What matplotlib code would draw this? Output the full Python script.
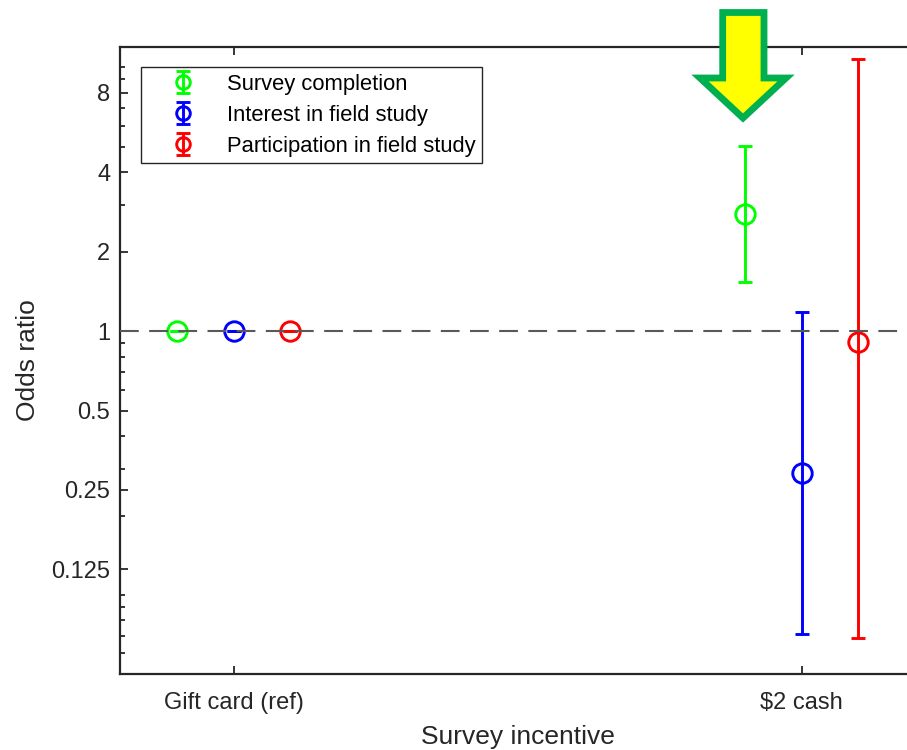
import numpy as np
import matplotlib
matplotlib.use("Agg")
import matplotlib.pyplot as plt
from matplotlib.ticker import FixedLocator, LogLocator, NullFormatter, NullLocator
from matplotlib.patches import Polygon

plt.rcParams['font.family'] = ['Liberation Sans', 'DejaVu Sans']

# data
groups = ["Gift card (ref)", "\\$2 cash"]
series = ["Survey completion", "Interest in field study", "Participation in field study"]
colors = ["#00ff00", "#0000ff", "#ff0000"]
odds = [[1.0, 2.77], [1.0, 0.290], [1.0, 0.910]]
ci_low = [[1.0, 1.54], [1.0, 0.0711], [1.0, 0.0685]]
ci_high = [[1.0, 5.05], [1.0, 1.18], [1.0, 10.8]]
offsets = [-0.1, 0.0, 0.1]

yticks = [0.125, 0.25, 0.5, 1, 2, 4, 8]
yticklabels = ["0.125", "0.25", "0.5", "1", "2", "4", "8"]

dark = (0.15, 0.15, 0.15)

fig = plt.figure(figsize=(9.07, 7.5), dpi=100)
ax = fig.add_axes([0.1323, 0.1009, 0.8767, 0.8371])

x = np.arange(1, len(groups) + 1)
handles = []
for i in range(len(series)):
    y = np.array(odds[i])
    lo = y - np.array(ci_low[i])
    hi = np.array(ci_high[i]) - y
    h = ax.errorbar(x + offsets[i], y, yerr=[lo, hi], fmt='o', color=colors[i],
                    mfc='none', mec=colors[i], ms=14, mew=2.1, elinewidth=2.1,
                    capsize=5, capthick=2.1, label=series[i], zorder=2)
    handles.append(h)

ax.axhline(1, color='#595959', lw=1.5, dashes=(9, 5), zorder=3)

ax.set_yscale('log', base=2)
ax.set_ylim(0.05, 12)
ax.set_xlim(0.8, 2.2)

ax.yaxis.set_major_locator(FixedLocator(yticks))
ax.set_yticklabels(yticklabels)
ax.yaxis.set_minor_locator(LogLocator(base=10, subs=np.arange(1, 10)))
ax.yaxis.set_minor_formatter(NullFormatter())
ax.set_xticks(x)
ax.set_xticklabels(groups)
ax.xaxis.set_minor_locator(NullLocator())

ax.tick_params(which='both', direction='in', top=True, right=True, color=dark,
               labelcolor=dark, labelsize=17, width=1.3)
ax.tick_params(which='major', length=6)
ax.tick_params(which='minor', length=3.5)
ax.tick_params(axis='y', pad=7)
ax.tick_params(axis='x', pad=13)
for s in ax.spines.values():
    s.set_color(dark)
    s.set_linewidth(1.6)

ax.set_xlabel("Survey incentive", fontsize=19, color=dark, labelpad=8)
ax.set_ylabel("Odds ratio", fontsize=19, color=dark, labelpad=8)

leg = ax.legend(handles=handles, loc='upper left',
                bbox_to_anchor=(140.7 / 907, 1 - 67.3 / 750),
                bbox_transform=fig.transFigure, borderaxespad=0,
                fontsize=15.8, fancybox=False, framealpha=1, edgecolor=dark,
                borderpad=0.3, labelspacing=0.45, handlelength=3.3,
                handletextpad=0.34, markerscale=0.7)
leg.get_frame().set_linewidth(1.0)

# highlight arrow (figure pixel coordinates, y from the top)
W, H = 907.0, 750.0
pts = [(722.7, 12.5), (764, 12.5), (764, 78), (786, 78), (743, 118),
       (700, 78), (722.7, 78)]
arrow = Polygon([(px / W, 1 - py / H) for px, py in pts], closed=True,
                transform=fig.transFigure, facecolor='#ffff00',
                edgecolor='#00b050', linewidth=4.9, joinstyle='miter', zorder=10)
fig.patches.append(arrow)

fig.savefig("out.png", dpi=100)
